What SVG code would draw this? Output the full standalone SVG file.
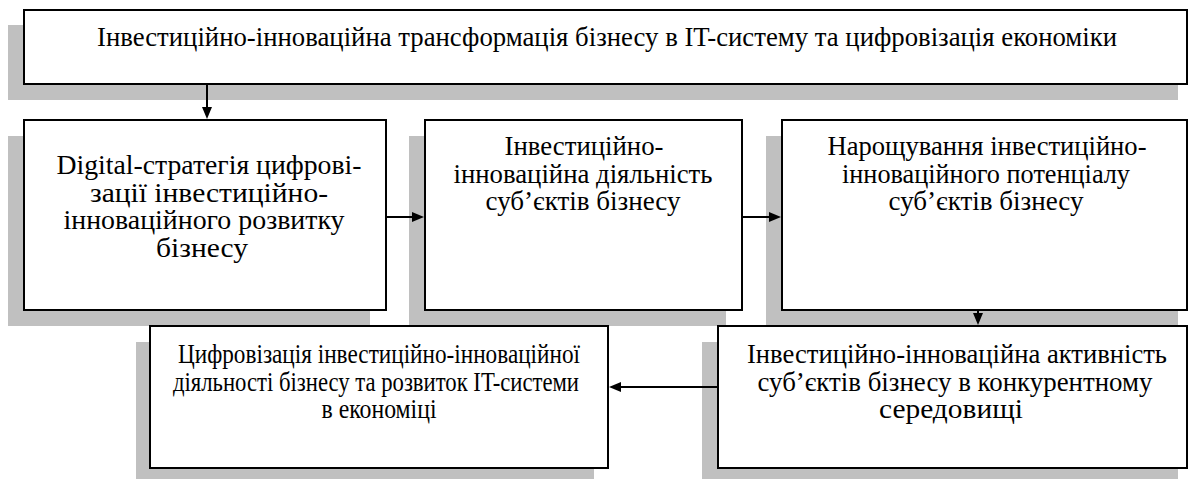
<svg xmlns="http://www.w3.org/2000/svg" width="1188" height="479" viewBox="0 0 1188 479">
<g id="n0">
<rect fill="#c0c0c0" x="8" y="25" width="1170" height="75"/>
<rect fill="#fff" stroke="#000" stroke-width="2" x="24" y="10" width="1163" height="74"/>
<text font-family="Liberation Serif" font-size="28" text-anchor="middle" x="607" y="46" textLength="1020" lengthAdjust="spacingAndGlyphs">Інвестиційно-інноваційна трансформація бізнесу в IT-систему та цифровізація економіки</text>
</g>
<g id="n1">
<rect fill="#c0c0c0" x="8" y="136" width="362" height="190"/>
<rect fill="#fff" stroke="#000" stroke-width="2" x="24" y="120" width="362" height="190"/>
<text font-family="Liberation Serif" font-size="28" text-anchor="middle" x="209" y="174" textLength="305" lengthAdjust="spacingAndGlyphs">Digital-стратегія цифрові-</text>
<text font-family="Liberation Serif" font-size="28" text-anchor="middle" x="209" y="201.5" textLength="238" lengthAdjust="spacingAndGlyphs">зації інвестиційно-</text>
<text font-family="Liberation Serif" font-size="28" text-anchor="middle" x="204" y="229" textLength="281" lengthAdjust="spacingAndGlyphs">інноваційного розвитку</text>
<text font-family="Liberation Serif" font-size="28" text-anchor="middle" x="202" y="256.5" textLength="92" lengthAdjust="spacingAndGlyphs">бізнесу</text>
</g>
<g id="n2">
<rect fill="#c0c0c0" x="409" y="136" width="317" height="190"/>
<rect fill="#fff" stroke="#000" stroke-width="2" x="425" y="120" width="317" height="190"/>
<text font-family="Liberation Serif" font-size="28" text-anchor="middle" x="584" y="155" textLength="159" lengthAdjust="spacingAndGlyphs">Інвестиційно-</text>
<text font-family="Liberation Serif" font-size="28" text-anchor="middle" x="583" y="182.5" textLength="259" lengthAdjust="spacingAndGlyphs">інноваційна діяльність</text>
<text font-family="Liberation Serif" font-size="28" text-anchor="middle" x="583" y="210" textLength="195" lengthAdjust="spacingAndGlyphs">суб’єктів бізнесу</text>
</g>
<g id="n3">
<rect fill="#c0c0c0" x="766" y="136" width="412" height="190"/>
<rect fill="#fff" stroke="#000" stroke-width="2" x="782" y="120" width="405" height="190"/>
<text font-family="Liberation Serif" font-size="28" text-anchor="middle" x="987" y="155" textLength="319" lengthAdjust="spacingAndGlyphs">Нарощування інвестиційно-</text>
<text font-family="Liberation Serif" font-size="28" text-anchor="middle" x="986" y="182.5" textLength="288" lengthAdjust="spacingAndGlyphs">інноваційного потенціалу</text>
<text font-family="Liberation Serif" font-size="28" text-anchor="middle" x="986" y="210" textLength="195" lengthAdjust="spacingAndGlyphs">суб’єктів бізнесу</text>
</g>
<g id="n4">
<rect fill="#c0c0c0" x="136" y="342" width="458" height="138"/>
<rect fill="#fff" stroke="#000" stroke-width="2" x="150" y="326" width="458" height="142"/>
<text font-family="Liberation Serif" font-size="28" text-anchor="middle" x="379" y="363" textLength="402" lengthAdjust="spacingAndGlyphs">Цифровізація інвестиційно-інноваційної</text>
<text font-family="Liberation Serif" font-size="28" text-anchor="middle" x="376" y="390.5" textLength="406" lengthAdjust="spacingAndGlyphs">діяльності бізнесу та розвиток IT-системи</text>
<text font-family="Liberation Serif" font-size="28" text-anchor="middle" x="379" y="418" textLength="115" lengthAdjust="spacingAndGlyphs">в економіці</text>
</g>
<g id="n5">
<rect fill="#c0c0c0" x="702" y="342" width="476" height="138"/>
<rect fill="#fff" stroke="#000" stroke-width="2" x="718" y="326" width="469" height="142"/>
<text font-family="Liberation Serif" font-size="28" text-anchor="middle" x="957" y="363" textLength="420" lengthAdjust="spacingAndGlyphs">Інвестиційно-інноваційна активність</text>
<text font-family="Liberation Serif" font-size="28" text-anchor="middle" x="955" y="390.5" textLength="395" lengthAdjust="spacingAndGlyphs">суб’єктів бізнесу в конкурентному</text>
<text font-family="Liberation Serif" font-size="28" text-anchor="middle" x="951" y="418" textLength="144" lengthAdjust="spacingAndGlyphs">середовищі</text>
</g>
<g id="connectors" stroke="#000" stroke-width="2" fill="none">
<line x1="207" y1="84" x2="207" y2="108"/>
<polygon fill="#000" stroke="none" points="202,107 212,107 207,119"/>
<line x1="386" y1="217" x2="413" y2="217"/>
<polygon fill="#000" stroke="none" points="412,212 412,222 424,217"/>
<line x1="742" y1="217" x2="770" y2="217"/>
<polygon fill="#000" stroke="none" points="769,212 769,222 781,217"/>
<line x1="978" y1="310" x2="978" y2="314"/>
<polygon fill="#000" stroke="none" points="973,313 983,313 978,325"/>
<line x1="718" y1="387" x2="620" y2="387"/>
<polygon fill="#000" stroke="none" points="621,382 621,392 609,387"/>
</g>
</svg>
